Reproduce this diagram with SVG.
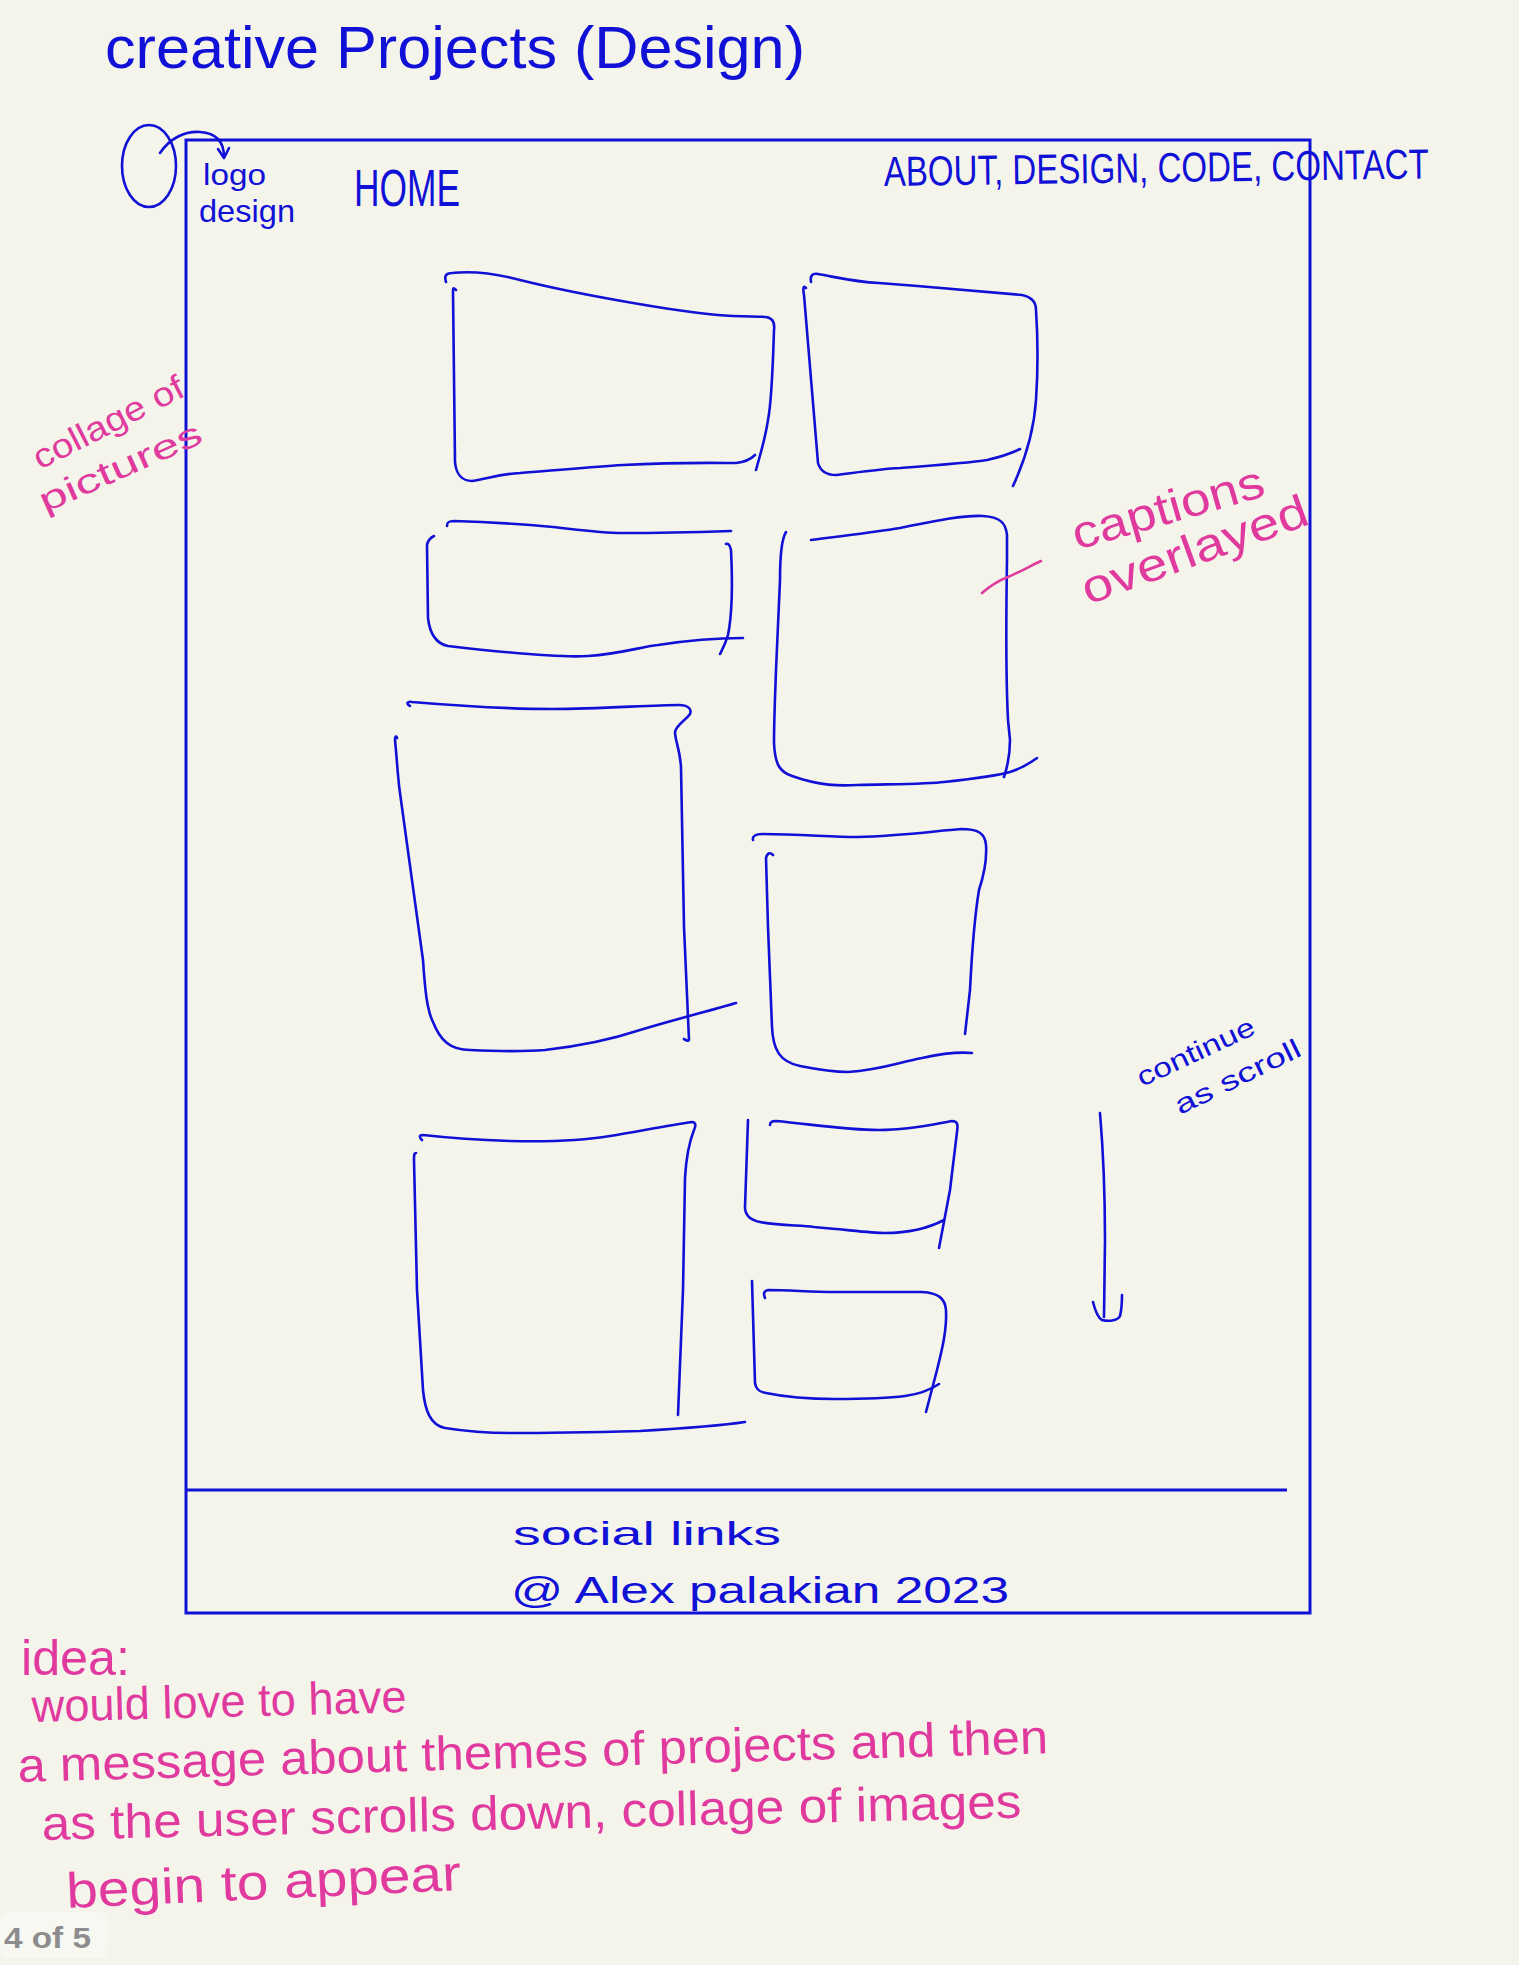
<svg xmlns="http://www.w3.org/2000/svg" width="1519" height="1965" viewBox="0 0 1519 1965">
<style>
.bg{fill:#f5f4eb}
.b{fill:none;stroke:#1010d6;stroke-width:2.6;stroke-linecap:round;stroke-linejoin:round}
.fr{fill:none;stroke:#1010d6;stroke-width:3}
.p{fill:none;stroke:#e03a9e;stroke-width:2.6;stroke-linecap:round}
.tb{fill:#1010d6;font-family:"Liberation Sans","DejaVu Sans",sans-serif}
.tp{fill:#e03a9e;font-family:"Liberation Sans","DejaVu Sans",sans-serif}
</style>
<rect class="bg" x="0" y="0" width="1519" height="1965"/>

<g id="title">
<text class="tb" x="105" y="68" font-size="60" textLength="700" lengthAdjust="spacingAndGlyphs">creative Projects (Design)</text>
</g>

<g id="page-frame">
<rect class="fr" x="186" y="140" width="1124" height="1473"/>
<line class="fr" x1="186" y1="1490" x2="1287" y2="1490"/>
</g>

<g id="logo">
<ellipse class="b" cx="149" cy="166" rx="27" ry="41"/>
<text class="tb" x="203" y="185" font-size="30" textLength="63" lengthAdjust="spacingAndGlyphs">logo</text>
<text class="tb" x="199" y="222" font-size="32" textLength="96" lengthAdjust="spacingAndGlyphs">design</text>
</g>

<g id="nav">
<text class="tb" x="354" y="206" font-size="52" textLength="106" lengthAdjust="spacingAndGlyphs">HOME</text>
<text class="tb" x="884" y="186" font-size="42" textLength="545" lengthAdjust="spacingAndGlyphs" transform="rotate(-0.8 884 186)">ABOUT, DESIGN, CODE, CONTACT</text>
</g>

<g id="box1">
<path class="b" d="M446,282 C444,276 446,273 452,273 C470,271 490,272 520,280 C580,295 680,312 718,315 C740,317 760,316 766,317 C773,318 775,323 774,330 C773,360 772,400 768,420 C765,440 760,455 756,470"/>
<path class="b" d="M456,290 C453,287 453,288 453,292 L455,462 C456,474 462,481 472,481 C490,478 500,474 520,473 C560,470 590,467 623,465 C680,462 720,463 736,463 C745,462 750,460 755,455"/>
</g>
<g id="box2">
<path class="b" d="M811,282 C810,276 812,273 818,274 C840,278 855,282 879,283 C930,287 990,292 1022,295 C1032,297 1036,302 1036,310 C1038,340 1038,370 1036,400 C1034,430 1025,460 1013,486"/>
<path class="b" d="M806,288 C803,284 803,290 804,295 L818,463 C820,470 826,475 836,475 C860,472 880,469 900,468 C940,465 975,462 987,460 C1000,457 1012,453 1020,449"/>
</g>
<g id="box3">
<path class="b" d="M447,526 C447,522 449,521 454,521 C490,522 520,524 553,527 C580,530 600,533 623,533 C660,533 700,532 731,531"/>
<path class="b" d="M434,536 C430,538 428,540 427,545 L428,618 C430,636 438,644 448,646 C500,652 560,658 588,656 C620,654 640,647 658,645 C690,640 720,638 743,638"/>
<path class="b" d="M726,544 C728,543 730,545 731,550 C733,590 731,620 728,635 C725,645 722,650 720,654"/>
</g>
<g id="box4">
<path class="b" d="M786,532 C781,540 780,560 780,580 L776,670 C775,700 774,720 774,743 C775,765 780,772 792,776 C820,786 840,786 857,785 C900,784 930,784 944,782 C980,778 1000,775 1010,772 C1020,769 1030,763 1037,758"/>
<path class="b" d="M811,540 C840,536 870,533 900,528 C930,522 960,515 983,516 C1000,517 1006,523 1007,535 L1007,560 C1006,620 1006,680 1008,720 L1010,740 C1010,755 1008,765 1004,777"/>
</g>
<g id="box5">
<path class="b" d="M410,706 C406,704 407,701 412,702 C460,706 500,709 553,709 C600,709 650,705 679,705 C688,705 692,709 690,714 C686,720 676,725 675,732 C675,740 680,750 681,767 L684,927 L689,1040 C689,1041 686,1041 684,1039"/>
<path class="b" d="M397,738 C396,735 395,737 395,740 C397,760 398,780 400,793 L423,960 C425,990 427,1010 433,1022 C440,1040 450,1050 470,1050 C490,1051 520,1052 545,1050 C580,1046 610,1040 640,1030 C680,1018 720,1008 736,1003"/>
</g>
<g id="box6">
<path class="b" d="M753,840 C752,836 756,834 762,834 C800,834 830,837 857,837 C900,836 935,831 961,829 C978,829 985,833 986,845 C987,860 984,875 979,890 C974,920 972,950 970,990 L965,1034"/>
<path class="b" d="M773,855 C770,852 767,853 766,858 L768,927 L772,1027 C773,1050 780,1062 800,1066 C820,1070 835,1072 848,1072 C880,1070 900,1062 922,1058 C940,1054 960,1052 972,1053"/>
</g>
<g id="box7">
<path class="b" d="M422,1140 C419,1137 419,1135 423,1135 C450,1138 480,1140 510,1141 C550,1142 580,1141 610,1136 C640,1131 670,1125 692,1122 C696,1122 696,1126 694,1130 C688,1145 686,1160 685,1178 L683,1290 L678,1415"/>
<path class="b" d="M416,1153 C414,1153 414,1155 414,1160 L417,1290 L423,1390 C425,1410 430,1425 445,1428 C470,1432 490,1433 510,1433 C560,1433 600,1432 640,1431 C690,1428 725,1425 745,1422"/>
</g>
<g id="box8">
<path class="b" d="M748,1120 L745,1207 C745,1215 750,1220 760,1222 C780,1226 800,1225 814,1227 C850,1230 870,1233 885,1233 C905,1233 925,1230 944,1220"/>
<path class="b" d="M770,1125 C770,1122 772,1121 776,1121 C810,1124 845,1130 879,1130 C910,1130 935,1124 952,1121 C958,1121 958,1125 957,1132 L950,1190 L939,1248"/>
</g>
<g id="box9">
<path class="b" d="M752,1281 L755,1383 C756,1390 760,1392 766,1393 C790,1398 815,1399 835,1399 C870,1399 890,1398 905,1396 C920,1394 930,1390 939,1384"/>
<path class="b" d="M765,1298 C763,1293 764,1291 768,1290 C790,1290 810,1292 835,1292 L922,1292 C938,1293 945,1298 946,1310 C947,1330 942,1350 937,1370 L926,1412"/>
</g>

<g id="footer">
<text class="tb" x="513" y="1545" font-size="34" textLength="268" lengthAdjust="spacingAndGlyphs">social links</text>
<text class="tb" x="511" y="1603" font-size="37" textLength="498" lengthAdjust="spacingAndGlyphs">@ Alex palakian 2023</text>
</g>

<g id="note-collage">
<text class="tp" font-size="34" textLength="165" lengthAdjust="spacingAndGlyphs" transform="translate(40,470) rotate(-27)">collage of</text>
<text class="tp" font-size="34" textLength="175" lengthAdjust="spacingAndGlyphs" transform="translate(45,513) rotate(-24)">pictures</text>
</g>

<g id="note-captions">
<text class="tp" font-size="46" textLength="198" lengthAdjust="spacingAndGlyphs" transform="translate(1077,550) rotate(-16)">captions</text>
<text class="tp" font-size="46" textLength="238" lengthAdjust="spacingAndGlyphs" transform="translate(1088,605) rotate(-20)">overlayed</text>
</g>

<g id="note-scroll">
<text class="tb" font-size="27" textLength="127" lengthAdjust="spacingAndGlyphs" transform="translate(1142,1087) rotate(-25)">continue</text>
<text class="tb" font-size="27" textLength="137" lengthAdjust="spacingAndGlyphs" transform="translate(1180,1115) rotate(-26)">as scroll</text>
</g>

<g id="connectors">
<path class="b" d="M160,153 C170,138 185,131 200,132 C215,133 224,140 224,157"/>
<path class="b" d="M218,149 L224,158 L229,148"/>
<path class="p" d="M982,593 C990,586 1000,580 1008,577 C1020,572 1030,566 1041,561"/>
<path class="b" d="M1100,1113 C1104,1160 1105,1200 1105,1240 L1104,1317"/>
<path class="b" d="M1093,1302 C1095,1310 1098,1318 1102,1320 C1110,1322 1118,1320 1120,1316 C1122,1308 1122,1300 1122,1295"/>
</g>

<g id="idea-note">
<text class="tp" x="21" y="1675" font-size="50" textLength="109" lengthAdjust="spacingAndGlyphs">idea:</text>
<text class="tp" x="32" y="1722" font-size="46" textLength="375" lengthAdjust="spacingAndGlyphs" transform="rotate(-1.5 32 1722)">would love to have</text>
<text class="tp" x="18" y="1782" font-size="48" textLength="1031" lengthAdjust="spacingAndGlyphs" transform="rotate(-1.6 18 1782)">a message about themes of projects and then</text>
<text class="tp" x="42" y="1840" font-size="48" textLength="980" lengthAdjust="spacingAndGlyphs" transform="rotate(-1.3 42 1840)">as the user scrolls down, collage of images</text>
<text class="tp" x="67" y="1908" font-size="50" textLength="395" lengthAdjust="spacingAndGlyphs" transform="rotate(-2.6 67 1908)">begin to appear</text>
</g>

<g id="page-label">
<rect x="0" y="1912" width="108" height="46" rx="8" fill="#f8f8f3"/>
<text x="4" y="1948" font-size="30" font-weight="bold" fill="#8c8c8c" font-family="'Liberation Sans',Arial,sans-serif" textLength="87" lengthAdjust="spacingAndGlyphs">4 of 5</text>
</g>
</svg>
